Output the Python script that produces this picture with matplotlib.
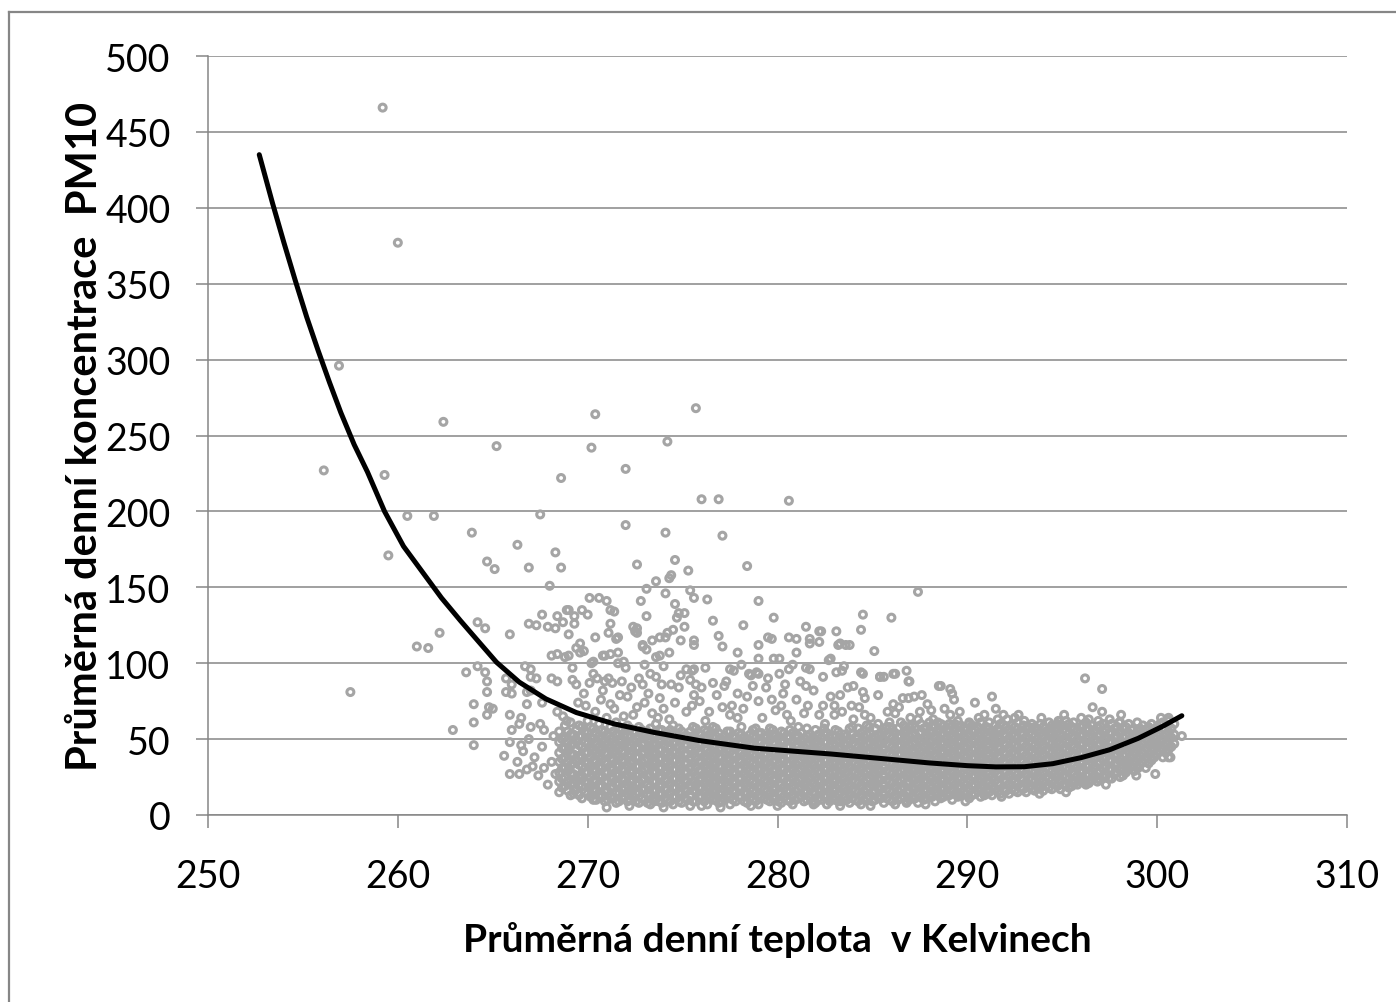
import matplotlib
matplotlib.use("Agg")
import matplotlib.pyplot as plt
from matplotlib.lines import Line2D

plt.rcParams['font.family'] = ['Lato', 'DejaVu Sans']

# trend curve
curve_t = [252.7, 253.4, 254.0, 254.6, 255.2, 255.8, 256.4, 257.0, 257.7, 258.4,
           259.3, 260.3, 261.3, 262.3, 263.3, 264.2, 265.2, 266.4, 267.8, 269.4,
           271.4, 273.5, 275.9, 278.8, 282.8, 286.0, 288.0, 290.0, 291.5, 293.0,
           294.5, 296.0, 297.5, 299.0, 300.3, 301.3]
curve_pm = [435, 403, 377, 352, 328, 306, 285, 265, 244, 226,
            200, 177, 160, 143, 128, 115, 100.6, 87.5, 76.5, 67.5,
            60, 54.4, 49, 44, 40.2, 36.6, 34.3, 32.5, 31.7, 31.8,
            33.8, 37.8, 43, 50.5, 58.5, 65.4]

# isolated / sparse points (temperature K, PM10)
sparse = [
    (259.2, 466), (260.0, 377), (256.9, 296), (256.1, 227), (259.3, 224), (259.5, 171),
    (260.5, 197), (261.9, 197), (262.4, 259), (257.5, 81), (261.0, 111), (261.6, 110),
    (262.2, 120), (262.9, 56), (263.9, 186), (265.2, 243), (264.7, 167), (265.1, 162),
    (263.6, 94), (264.0, 46), (270.4, 264), (275.7, 268), (270.2, 242), (274.2, 246),
    (268.6, 222), (272.0, 228), (276.0, 208), (276.9, 208), (280.6, 207), (272.0, 191),
    (274.1, 186), (277.1, 184), (267.5, 198), (266.3, 178), (268.3, 173), (268.6, 163),
    (266.9, 163), (272.6, 165), (274.6, 168), (275.3, 161), (278.4, 164), (274.4, 158),
    (274.3, 156), (273.6, 154), (273.1, 149), (274.1, 146), (275.4, 148), (275.6, 143),
    (287.4, 147), (279.0, 141), (276.3, 142), (270.1, 143), (270.6, 143), (271.0, 141),
    (272.8, 141), (274.6, 139), (268.0, 151), (269.0, 135), (269.7, 135), (270.0, 132),
    (271.2, 135), (271.4, 134), (268.4, 131), (273.1, 131), (274.8, 133), (275.1, 133),
    (276.6, 128), (279.8, 130), (284.5, 132), (286.0, 130), (269.3, 126), (271.2, 126),
    (266.9, 126), (267.9, 124), (264.2, 127), (264.6, 123), (265.9, 119), (269.0, 119),
    (274.7, 130), (275.1, 124), (278.2, 125), (272.6, 123), (281.5, 124), (284.4, 122),
    (270.4, 117), (271.1, 120), (272.6, 120), (274.5, 122), (271.5, 116), (273.8, 117),
    (274.1, 117), (274.9, 115), (276.9, 118), (279.5, 117), (280.6, 117), (281.0, 116),
    (282.2, 121), (283.1, 121), (269.6, 113), (269.8, 108), (272.9, 112), (273.1, 109),
    (275.6, 112), (277.1, 111), (279.0, 112), (281.7, 113), (283.2, 112), (283.6, 112),
    (285.1, 108), (270.8, 105), (271.6, 107), (273.8, 105), (274.3, 107), (277.9, 107),
    (279.8, 103), (281.0, 107), (282.7, 102), (270.3, 101), (271.9, 101), (268.1, 105),
    (268.4, 106), (268.8, 104), (269.0, 105), (270.2, 100), (266.7, 98), (264.2, 98),
    (267.6, 132), (268.3, 123), (268.7, 127), (267.3, 125), (271.6, 117), (272.4, 124),
    (272.5, 121), (273.4, 115), (274.2, 120), (275.6, 115), (268.9, 135), (269.3, 131),
    (269.4, 110), (269.6, 107), (270.9, 105), (271.2, 106), (271.6, 100), (272.9, 111),
    (273.6, 104), (274.0, 98), (275.2, 96), (275.4, 89), (282.3, 121), (281.7, 116),
    (282.2, 114), (283.3, 113), (283.8, 112), (279.0, 103), (280.1, 103), (279.7, 116),
]

# moderately dense points above and around the main band
upper = [
    (264.6, 94), (264.7, 88), (265.7, 90), (267.0, 91), (268.1, 90), (269.2, 89),
    (270.1, 87), (264.7, 81), (265.7, 81), (266.8, 81), (267.6, 74), (264.0, 73),
    (264.8, 71), (265.0, 70), (266.8, 73), (264.7, 66), (265.9, 66), (266.5, 64),
    (268.4, 68), (268.7, 65), (264.0, 61), (266.4, 60), (267.0, 58), (267.7, 56),
    (265.9, 48), (266.5, 46), (265.6, 39), (267.1, 32), (265.9, 27), (266.4, 27),
    (269.3, 16), (267.7, 31), (268.3, 27), (269.6, 24), (270.1, 18), (266.0, 86),
    (266.0, 80), (267.0, 96), (267.0, 82), (267.3, 90), (268.4, 88), (269.4, 86),
    (270.3, 93), (270.5, 90), (270.9, 88), (271.1, 90), (271.3, 87), (271.8, 88),
    (272.7, 90), (272.9, 86), (273.3, 93), (273.6, 91), (273.9, 86), (274.4, 86),
    (274.8, 84), (275.5, 95), (275.6, 96), (277.7, 95), (278.6, 92), (279.0, 93),
    (280.1, 93), (281.7, 96), (283.4, 95), (284.5, 93), (285.4, 91), (285.6, 91),
    (286.1, 93), (286.8, 95), (286.9, 88), (288.5, 85), (284.5, 81), (283.3, 79),
    (280.8, 99), (281.5, 97), (282.8, 103), (283.1, 94), (283.5, 98), (284.4, 94),
    (285.4, 91), (286.2, 93), (286.95, 88), (278.5, 93), (278.9, 94), (277.5, 96),
    (276.6, 87), (277.2, 85), (276.0, 84), (275.7, 86), (279.4, 84), (280.4, 86),
    (281.2, 88), (281.5, 85), (282.4, 91), (284.0, 85), (284.6, 77), (288.6, 85),
    (289.1, 83), (289.2, 80), (289.3, 76), (290.4, 74), (287.2, 78), (287.6, 79),
    (286.9, 77), (286.6, 77), (287.9, 73), (288.1, 69), (289.1, 66), (285.8, 68),
    (286.2, 67), (286.1, 73), (284.6, 66), (283.9, 72), (283.0, 72), (282.4, 72),
    (281.6, 72), (278.4, 78), (277.6, 72), (277.1, 71), (276.4, 68), (275.6, 79),
    (275.5, 72), (279.7, 76), (280.2, 72), (279.0, 75), (280.5, 66), (282.2, 66),
    (283.0, 66), (284.0, 63), (272.1, 78), (273.0, 74), (271.4, 70), (270.7, 76),
    (269.9, 72), (274.0, 70), (272.4, 66), (273.7, 64), (271.0, 64), (277.9, 64),
    (291.3, 78), (291.9, 66), (292.7, 66), (295.1, 66), (295.6, 61), (296.2, 90),
    (297.1, 83), (296.6, 71), (297.1, 68), (298.1, 66), (298.0, 61), (298.7, 56),
    (300.2, 64), (300.6, 64), (300.3, 61), (301.3, 52), (299.9, 47), (300.6, 38),
    (300.7, 38), (299.9, 27), (299.0, 31), (298.4, 32), (296.9, 24), (296.2, 21),
    (295.5, 19), (293.3, 19), (292.0, 16), (290.9, 13), (289.5, 14), (288.6, 12),
    (290.1, 61), (290.9, 66), (292.1, 63), (294.4, 55), (295.0, 59), (288.8, 70),
    (276.0, 6), (278.6, 6), (281.9, 7), (284.9, 6), (286.8, 8), (273.5, 9),
    (268.9, 62), (269.5, 74), (269.8, 80), (270.4, 68), (270.8, 82), (271.2, 73),
    (271.7, 79), (271.9, 65), (272.3, 84), (272.6, 71), (273.2, 80), (273.4, 67),
    (273.8, 77), (274.3, 63), (274.6, 74), (274.9, 92), (275.2, 68), (275.9, 75),
    (276.2, 62), (276.8, 79), (277.3, 88), (277.5, 66), (277.9, 80), (278.2, 70),
    (278.7, 85), (279.2, 64), (279.5, 90), (279.9, 69), (280.3, 80), (280.7, 62),
    (281.0, 76), (281.4, 67), (281.9, 82), (282.5, 60), (282.8, 78), (283.4, 68),
    (283.7, 84), (284.3, 71), (284.9, 64), (285.3, 79), (285.9, 61), (286.4, 71),
    (287.0, 64), (287.5, 68), (288.2, 63), (289.6, 68), (290.6, 64), (291.5, 70),
    (293.0, 62), (293.9, 64), (294.8, 62), (296.0, 64), (296.9, 62), (297.5, 63),
    (269.2, 97), (272.0, 97), (273.0, 99), (276.2, 97), (278.1, 99), (280.6, 96),
    (266.3, 35), (266.6, 42), (266.9, 50), (267.2, 38), (267.4, 26), (267.6, 45),
    (267.9, 20), (268.1, 35), (268.2, 52), (266.0, 56), (266.8, 30), (267.5, 60),
    (271.0, 5), (272.2, 6), (274.0, 5), (277.0, 5), (280.0, 6), (283.3, 6),
    (287.8, 7), (289.9, 9), (291.8, 12), (293.8, 14), (295.2, 15), (297.3, 20),
    (298.9, 26),
]

# dense band: temperature column -> PM10 values
core = [
    (268.5, [15, 22, 28, 35, 41, 48, 55]),
    (268.8, [19, 25, 31, 38, 44, 51, 59]),
    (269.1, [13, 20, 27, 33, 40, 46, 53, 61]),
    (269.4, [17, 23, 30, 36, 43, 49, 56]),
    (269.7, [11, 19, 25, 32, 38, 45, 52, 58]),
    (270.0, [14, 21, 28, 34, 41, 47, 54, 62]),
    (270.3, [10, 17, 23, 30, 36, 43, 50, 57]),
    (270.6, [13, 19, 26, 32, 39, 45, 52, 60]),
    (270.9, [9, 16, 22, 28, 35, 41, 48, 55]),
    (271.2, [12, 18, 25, 31, 37, 44, 50, 58]),
    (271.5, [8, 15, 21, 27, 33, 40, 46, 53, 61]),
    (271.8, [11, 17, 24, 30, 36, 42, 49, 56]),
    (272.1, [9, 14, 20, 26, 33, 39, 45, 52, 59]),
    (272.4, [12, 18, 23, 29, 35, 42, 48, 55]),
    (272.7, [8, 15, 21, 27, 32, 38, 44, 51, 58]),
    (273.0, [10, 17, 24, 30, 36, 41, 47, 54]),
    (273.3, [7, 13, 19, 26, 33, 39, 45, 50, 57]),
    (273.6, [11, 16, 22, 28, 34, 40, 46, 53, 60]),
    (273.9, [8, 14, 20, 25, 31, 37, 43, 49, 56]),
    (274.2, [10, 17, 23, 29, 35, 41, 48, 54]),
    (274.5, [7, 12, 18, 24, 30, 36, 42, 47, 53, 59]),
    (274.8, [9, 15, 21, 27, 33, 39, 45, 51, 57]),
    (275.1, [11, 17, 23, 28, 34, 40, 46, 52]),
    (275.4, [6, 13, 19, 25, 31, 37, 43, 49, 55]),
    (275.7, [9, 15, 20, 26, 32, 38, 44, 50, 57]),
    (276.0, [12, 18, 24, 29, 35, 41, 47, 53]),
    (276.3, [7, 13, 19, 25, 31, 37, 43, 48, 55]),
    (276.6, [10, 16, 22, 28, 34, 39, 45, 51, 58]),
    (276.9, [8, 14, 20, 26, 32, 38, 43, 49, 54]),
    (277.2, [11, 17, 23, 29, 35, 41, 47, 52]),
    (277.5, [7, 12, 18, 24, 30, 36, 42, 48, 55]),
    (277.8, [9, 15, 21, 27, 33, 39, 45, 51]),
    (278.1, [12, 18, 24, 30, 35, 41, 47, 53, 58]),
    (278.4, [8, 14, 19, 25, 31, 37, 43, 49]),
    (278.7, [10, 16, 22, 28, 34, 40, 46, 52, 56]),
    (279.0, [7, 13, 19, 25, 30, 36, 42, 48, 54]),
    (279.3, [11, 17, 23, 29, 35, 40, 46, 51]),
    (279.6, [9, 14, 20, 26, 32, 38, 44, 50, 57]),
    (279.9, [12, 18, 24, 30, 36, 41, 47, 53]),
    (280.2, [8, 14, 20, 25, 31, 37, 43, 49, 55]),
    (280.5, [10, 16, 22, 28, 34, 39, 45, 51]),
    (280.8, [7, 13, 19, 24, 30, 36, 42, 48, 54]),
    (281.1, [11, 17, 23, 29, 35, 41, 46, 52, 58]),
    (281.4, [9, 15, 20, 26, 32, 38, 44, 50]),
    (281.7, [12, 18, 24, 30, 36, 42, 47, 53]),
    (282.0, [8, 14, 19, 25, 31, 37, 43, 49, 56]),
    (282.3, [10, 16, 22, 28, 34, 40, 45, 51]),
    (282.6, [7, 13, 19, 25, 31, 36, 42, 48, 54]),
    (282.9, [11, 17, 23, 28, 34, 40, 46, 52]),
    (283.2, [9, 14, 20, 26, 32, 38, 44, 49, 55]),
    (283.5, [12, 18, 24, 30, 35, 41, 47, 53]),
    (283.8, [8, 14, 19, 25, 31, 37, 43, 49, 57]),
    (284.1, [10, 16, 22, 28, 34, 40, 46, 51]),
    (284.4, [7, 13, 19, 25, 30, 36, 42, 48, 54]),
    (284.7, [11, 17, 23, 29, 35, 41, 47, 53, 59]),
    (285.0, [9, 15, 20, 26, 32, 38, 44, 50]),
    (285.3, [12, 18, 24, 30, 36, 42, 47, 53, 60]),
    (285.6, [8, 14, 20, 26, 31, 37, 43, 49, 55]),
    (285.9, [10, 16, 22, 28, 34, 40, 46, 52, 58]),
    (286.2, [7, 13, 19, 25, 31, 37, 43, 48, 54]),
    (286.5, [11, 17, 23, 29, 35, 40, 46, 52, 61]),
    (286.8, [9, 15, 21, 26, 32, 38, 44, 50, 56]),
    (287.1, [12, 18, 24, 30, 36, 42, 47, 53, 59]),
    (287.4, [8, 14, 20, 26, 32, 38, 44, 50, 63]),
    (287.7, [10, 16, 22, 28, 33, 39, 45, 51, 57]),
    (288.0, [13, 19, 25, 31, 37, 43, 49, 55, 61]),
    (288.3, [9, 15, 21, 27, 33, 39, 45, 51, 58]),
    (288.6, [11, 17, 23, 29, 35, 41, 47, 53, 60]),
    (288.9, [14, 20, 26, 32, 38, 44, 50, 56]),
    (289.2, [10, 16, 22, 28, 34, 40, 46, 52, 59]),
    (289.5, [12, 18, 24, 30, 36, 42, 48, 54, 62]),
    (289.8, [15, 21, 27, 33, 39, 45, 51, 57]),
    (290.1, [11, 17, 23, 29, 35, 41, 47, 53, 60]),
    (290.4, [14, 20, 26, 32, 38, 44, 50, 56]),
    (290.7, [12, 18, 24, 30, 36, 42, 48, 54, 61]),
    (291.0, [16, 22, 28, 34, 40, 46, 52, 58]),
    (291.3, [13, 19, 25, 31, 37, 43, 49, 55]),
    (291.6, [15, 21, 27, 33, 39, 45, 51, 57, 63]),
    (291.9, [17, 23, 29, 35, 41, 47, 53, 59]),
    (292.2, [14, 20, 26, 32, 38, 44, 50, 56]),
    (292.5, [16, 22, 28, 34, 40, 46, 52, 58, 64]),
    (292.8, [18, 24, 30, 36, 42, 48, 54]),
    (293.1, [15, 21, 27, 33, 39, 45, 51, 57]),
    (293.4, [17, 23, 29, 35, 41, 47, 53, 60]),
    (293.7, [20, 26, 32, 38, 44, 50, 56]),
    (294.0, [16, 22, 28, 34, 40, 46, 52, 58]),
    (294.3, [18, 24, 30, 36, 42, 48, 54, 61]),
    (294.6, [21, 27, 33, 39, 45, 51, 57]),
    (294.9, [17, 23, 29, 35, 41, 47, 53, 59]),
    (295.2, [19, 25, 31, 37, 43, 49, 55, 62]),
    (295.5, [22, 28, 34, 40, 46, 52, 58]),
    (295.8, [20, 26, 32, 38, 44, 50, 56]),
    (296.1, [23, 29, 35, 41, 47, 53, 59]),
    (296.4, [21, 27, 33, 39, 45, 51, 57, 63]),
    (296.7, [25, 31, 37, 43, 49, 55]),
    (297.0, [23, 29, 35, 41, 47, 53, 59]),
    (297.3, [26, 32, 38, 44, 50, 56]),
    (297.6, [24, 30, 36, 42, 48, 54, 60]),
    (297.9, [28, 34, 40, 46, 52, 58]),
    (298.2, [26, 33, 39, 45, 51, 57]),
    (298.5, [30, 36, 42, 48, 54, 60]),
    (298.8, [29, 35, 41, 47, 53]),
    (299.1, [33, 39, 45, 51, 57]),
    (299.4, [31, 38, 44, 50, 56]),
    (299.7, [36, 42, 48, 54, 60]),
    (300.0, [40, 46, 52, 58]),
    (300.3, [38, 44, 50, 57]),
    (300.6, [43, 49, 55, 62]),
    (300.9, [47, 53, 60]),
]

# second pass over the dense band (points lying between the columns above)
core_mid = [
    (268.65, [18, 24, 31, 37, 44, 50]),
    (268.95, [16, 22, 29, 35, 42, 48, 55]),
    (269.25, [14, 21, 27, 34, 40, 47, 53]),
    (269.55, [13, 20, 26, 33, 39, 46, 52, 59]),
    (269.85, [15, 22, 28, 35, 41, 48, 55]),
    (270.15, [12, 19, 25, 32, 38, 45, 51, 58]),
    (270.45, [10, 16, 22, 29, 35, 41, 47, 54]),
    (270.75, [12, 19, 25, 31, 37, 43, 50, 56]),
    (271.05, [10, 16, 22, 28, 34, 40, 46, 53]),
    (271.35, [11, 18, 24, 30, 36, 42, 48, 55]),
    (271.65, [9, 14, 20, 26, 32, 38, 44, 50, 57]),
    (271.95, [12, 18, 23, 29, 35, 41, 47, 53]),
    (272.25, [10, 16, 22, 28, 34, 40, 46, 52, 57]),
    (272.55, [9, 14, 20, 26, 32, 38, 44, 50]),
    (272.85, [11, 17, 23, 29, 35, 41, 47, 53, 56]),
    (273.15, [8, 14, 20, 26, 31, 37, 43, 49, 55]),
    (273.45, [10, 16, 22, 28, 35, 41, 47, 53]),
    (273.75, [9, 14, 19, 25, 31, 37, 43, 50, 56]),
    (274.05, [11, 17, 23, 28, 34, 40, 46, 52]),
    (274.35, [9, 15, 21, 27, 33, 39, 44, 50, 56]),
    (274.65, [12, 18, 24, 30, 36, 41, 48, 54]),
    (274.95, [8, 14, 19, 25, 31, 37, 43, 49, 55]),
    (275.25, [10, 16, 22, 28, 34, 40, 46, 52]),
    (275.55, [9, 16, 22, 28, 34, 40, 46, 52, 58]),
    (275.85, [12, 18, 23, 29, 35, 41, 47, 54]),
    (276.15, [9, 15, 21, 27, 33, 39, 44, 50, 56]),
    (276.45, [11, 17, 23, 29, 35, 41, 47, 53]),
    (276.75, [10, 16, 22, 28, 34, 40, 46, 52, 57]),
    (277.05, [9, 15, 21, 27, 32, 38, 44, 50]),
    (277.35, [13, 19, 25, 31, 37, 43, 49, 55]),
    (277.65, [10, 16, 22, 28, 34, 40, 46, 52]),
    (277.95, [12, 18, 24, 30, 36, 42, 48, 54]),
    (278.25, [9, 15, 21, 27, 33, 39, 45, 51]),
    (278.55, [11, 17, 23, 29, 35, 41, 47, 53]),
    (278.85, [9, 15, 21, 27, 33, 39, 45, 51, 57]),
    (279.15, [12, 18, 24, 30, 36, 42, 48, 54]),
    (279.45, [10, 16, 22, 28, 34, 40, 46, 52]),
    (279.75, [11, 17, 23, 29, 35, 41, 47, 53, 56]),
    (280.05, [9, 15, 21, 27, 33, 39, 45, 51]),
    (280.35, [12, 18, 24, 30, 36, 42, 48, 54]),
    (280.65, [9, 15, 21, 27, 33, 39, 45, 51, 56]),
    (280.95, [10, 16, 22, 28, 34, 40, 46, 52]),
    (281.25, [12, 18, 24, 30, 36, 42, 48, 54]),
    (281.55, [10, 16, 22, 28, 34, 40, 46, 52, 57]),
    (281.85, [9, 15, 21, 27, 33, 39, 45, 51]),
    (282.15, [11, 17, 23, 29, 35, 41, 47, 53]),
    (282.45, [12, 18, 24, 30, 36, 42, 48, 54, 57]),
    (282.75, [9, 15, 21, 27, 33, 39, 45, 51]),
    (283.05, [10, 16, 22, 28, 34, 40, 46, 52, 56]),
    (283.35, [9, 15, 21, 27, 33, 39, 45, 51]),
    (283.65, [10, 16, 22, 28, 34, 40, 46, 52]),
    (283.95, [11, 17, 23, 29, 35, 41, 47, 53, 58]),
    (284.25, [9, 15, 21, 27, 33, 39, 45, 51, 57]),
    (284.55, [10, 16, 22, 28, 34, 40, 46, 52]),
    (284.85, [12, 18, 24, 30, 36, 42, 48, 54, 58]),
    (285.15, [10, 16, 22, 28, 34, 40, 46, 52, 57]),
    (285.45, [11, 17, 23, 29, 35, 41, 47, 53]),
    (285.75, [11, 17, 23, 29, 35, 41, 47, 53, 58]),
    (286.05, [9, 15, 21, 27, 33, 39, 45, 51, 57]),
    (286.35, [10, 16, 22, 28, 34, 40, 46, 52, 57]),
    (286.65, [12, 18, 24, 30, 36, 42, 48, 54, 59]),
    (286.95, [10, 16, 22, 28, 34, 40, 46, 52, 58]),
    (287.25, [11, 17, 23, 29, 35, 41, 47, 53, 58]),
    (287.55, [12, 18, 24, 30, 36, 42, 48, 54, 60]),
    (287.85, [11, 17, 23, 29, 35, 41, 47, 53, 58]),
    (288.15, [12, 18, 24, 30, 36, 42, 48, 54, 59]),
    (288.45, [13, 19, 25, 31, 37, 43, 49, 55, 61]),
    (288.75, [12, 18, 24, 30, 36, 42, 48, 54, 59]),
    (289.05, [13, 19, 25, 31, 37, 43, 49, 55, 60]),
    (289.35, [14, 20, 26, 32, 38, 44, 50, 56, 60]),
    (289.65, [13, 19, 25, 31, 37, 43, 49, 55, 59]),
    (289.95, [14, 20, 26, 32, 38, 44, 50, 56]),
    (290.25, [13, 19, 25, 31, 37, 43, 49, 55, 59]),
    (290.55, [16, 22, 28, 34, 40, 46, 52, 58]),
    (290.85, [14, 20, 26, 32, 38, 44, 50, 56]),
    (291.15, [15, 21, 27, 33, 39, 45, 51, 57, 61]),
    (291.45, [17, 23, 29, 35, 41, 47, 53, 59]),
    (291.75, [14, 20, 26, 32, 38, 44, 50, 56, 60]),
    (292.05, [16, 22, 28, 34, 40, 46, 52, 58]),
    (292.35, [17, 23, 29, 35, 41, 47, 53, 59]),
    (292.65, [15, 21, 27, 33, 39, 45, 51, 57, 61]),
    (292.95, [17, 23, 29, 35, 41, 47, 53, 59]),
    (293.25, [18, 24, 30, 36, 42, 48, 54, 58]),
    (293.55, [16, 22, 28, 34, 40, 46, 52, 58]),
    (293.85, [18, 24, 30, 36, 42, 48, 54, 60]),
    (294.15, [19, 25, 31, 37, 43, 49, 55]),
    (294.45, [17, 23, 29, 35, 41, 47, 53, 59]),
    (294.75, [19, 25, 31, 37, 43, 49, 55, 60]),
    (295.05, [20, 26, 32, 38, 44, 50, 56]),
    (295.35, [18, 24, 30, 36, 42, 48, 54, 60]),
    (295.65, [21, 27, 33, 39, 45, 51, 57]),
    (295.95, [22, 28, 34, 40, 46, 52, 58]),
    (296.25, [20, 26, 32, 38, 44, 50, 56, 61]),
    (296.55, [23, 29, 35, 41, 47, 53, 59]),
    (296.85, [22, 28, 34, 40, 46, 52, 58]),
    (297.15, [25, 31, 37, 43, 49, 55, 60]),
    (297.45, [24, 30, 36, 42, 48, 54]),
    (297.75, [27, 33, 39, 45, 51, 57]),
    (298.05, [25, 31, 37, 43, 49, 55, 61]),
    (298.35, [28, 34, 40, 46, 52, 58]),
    (298.65, [32, 38, 44, 50, 56]),
    (298.95, [31, 37, 43, 49, 55, 61]),
    (299.25, [35, 41, 47, 53, 59]),
    (299.55, [34, 40, 46, 52, 58]),
    (299.85, [38, 44, 50, 56]),
    (300.15, [42, 48, 54, 60]),
    (300.45, [41, 47, 53]),
    (300.75, [45, 51, 57]),
]

x_ticks = [250, 260, 270, 280, 290, 300, 310]
y_ticks = [0, 50, 100, 150, 200, 250, 300, 350, 400, 450, 500]

# collect all points
temps = [p[0] for p in sparse] + [p[0] for p in upper]
pms = [p[1] for p in sparse] + [p[1] for p in upper]
for t, vals in core + core_mid:
    for v in vals:
        temps.append(t)
        pms.append(v)

GREY = '#868686'

fig = plt.figure(figsize=(13.96, 10.03), dpi=100)
ax = fig.add_axes([208 / 1396, 1 - 816 / 1003, (1347 - 208) / 1396, (816 - 57) / 1003])

ax.scatter(temps, pms, s=25, facecolors='none', edgecolors='#A5A5A5', linewidths=2.2, zorder=2)
ax.plot(curve_t, curve_pm, color='black', lw=3.6, solid_capstyle='round',
        solid_joinstyle='round', zorder=3)

ax.set_xlim(250, 310)
ax.set_ylim(0, 500)
ax.set_xticks(x_ticks)
ax.set_yticks(y_ticks)
ax.grid(axis='y', color=GREY, lw=1.1)
ax.set_axisbelow(True)
for s in ['top', 'right']:
    ax.spines[s].set_visible(False)
for s in ['left', 'bottom']:
    ax.spines[s].set_color(GREY)
    ax.spines[s].set_linewidth(1.1)
ax.tick_params(direction='out', length=9, width=1.1, color=GREY, labelsize=27)
ax.tick_params(axis='y', pad=18)
ax.tick_params(axis='x', pad=22)

fig.text(777 / 1396, 1 - 940 / 1003, 'Průměrná denní teplota  v Kelvinech',
         ha='center', va='center', fontsize=28, fontweight='bold')
fig.text(85 / 1396, 1 - 436 / 1003, 'Průměrná denní koncentrace  PM10',
         ha='center', va='center', rotation=90, fontsize=30, fontweight='bold')

# chart area border (left and top edges visible)
fig.add_artist(Line2D([9 / 1396, 9 / 1396], [-0.1, 1 - 13 / 1003], transform=fig.transFigure, color=GREY, lw=1.6))
fig.add_artist(Line2D([9 / 1396, 1.1], [1 - 13 / 1003, 1 - 13 / 1003], transform=fig.transFigure, color=GREY, lw=1.6))

fig.savefig('out.png', dpi=100)
